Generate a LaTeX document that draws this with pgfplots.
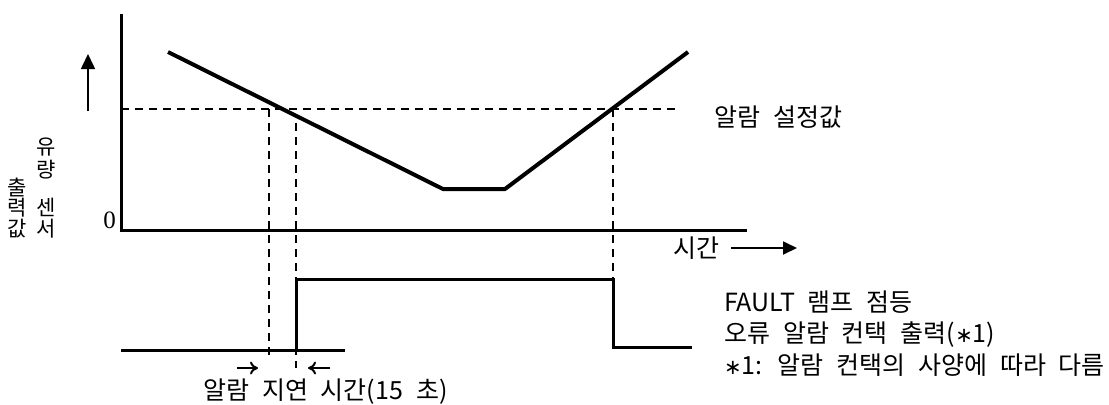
\documentclass[border=0pt]{standalone}
\usepackage{pgfplots}
\pgfplotsset{compat=1.18}
\usepackage{fontspec}
\usetikzlibrary{arrows.meta}
\setmainfont{Noto Sans CJK KR}[WordSpace=2.3]
\newfontfamily\zerofont{Liberation Serif}
\newfontfamily\symfont{DejaVu Sans}
\newcommand{\staru}{{\symfont\fontsize{21}{24}\selectfont ∗}}
\begin{document}
\begin{tikzpicture}[
  lbl/.style={font=\fontsize{25}{30}\selectfont, inner sep=0pt},
  vlbl/.style={font=\fontsize{21}{24}\selectfont, inner sep=0pt}]
\begin{axis}[
  hide axis, scale only axis,
  width=1109pt, height=403pt,
  xmin=0, xmax=1109, ymin=0, ymax=403,
  y dir=reverse, clip=false]

  % frame for the page size
  \addplot[draw=none] coordinates {(0,0) (1109,403)};

  % axes
  \addplot[line width=3pt] coordinates {(121,14) (121,230) (747,230)};

  % alarm level and time markers
  \addplot[line width=1.8pt, dash pattern=on 8pt off 6pt] coordinates {(121,109) (676,109)};
  \addplot[line width=1.8pt, dash pattern=on 8pt off 6pt] coordinates {(269,109) (269,358)};
  \addplot[line width=1.8pt, dash pattern=on 8pt off 6pt] coordinates {(296,123) (296,368)};
  \addplot[line width=1.8pt, dash pattern=on 8pt off 6pt] coordinates {(613,109) (613,279)};

  % flow sensor output
  \addplot[line width=4pt, line join=round] coordinates {
    (168,52) (443,189) (505,189) (688,52)};

  % FAULT output
  \addplot[line width=3pt] coordinates {(121,350) (345,350)};
  \addplot[line width=3pt] coordinates {(296,350) (296,279) (613,279) (613,347) (692,347)};

  % arrows
  \addplot[line width=1.5pt, -{Triangle[length=15pt, width=14pt]}] coordinates {(88,111) (88,54)};
  \addplot[line width=1.8pt, -{Triangle[length=14pt, width=13pt]}] coordinates {(731,248) (797,248)};
  \addplot[line width=2pt, -{To[length=8pt, width=13pt]}] coordinates {(237,368) (258,368)};
  \addplot[line width=2pt, -{To[length=8pt, width=13pt]}] coordinates {(330,368) (308,368)};

  % texts
  \node[inner sep=0pt, anchor=east] at (axis cs:116,220) {\zerofont\fontsize{25}{28}\selectfont 0};
  \node[vlbl] at (axis cs:46,147) {유};
  \node[vlbl] at (axis cs:46,170) {량};
  \node[vlbl] at (axis cs:46,207) {센};
  \node[vlbl] at (axis cs:46,229) {서};
  \node[vlbl] at (axis cs:17,187) {출};
  \node[vlbl] at (axis cs:17,208) {력};
  \node[vlbl] at (axis cs:17,229) {값};
  \node[lbl, anchor=west] at (axis cs:714,117) {알람 설정값};
  \node[lbl, anchor=west] at (axis cs:673,248) {시간};
  \node[lbl, anchor=west] at (axis cs:724,302) {FAULT 램프 점등};
  \node[lbl, anchor=west] at (axis cs:724,335) {오류 알람 컨택 출력(\staru1)};
  \node[lbl, anchor=west] at (axis cs:724,365) {\staru1: 알람 컨택의 사양에 따라 다름};
  \node[lbl, anchor=west] at (axis cs:203,392) {알람 지연 시간(15 초)};
\end{axis}
\end{tikzpicture}
\end{document}
